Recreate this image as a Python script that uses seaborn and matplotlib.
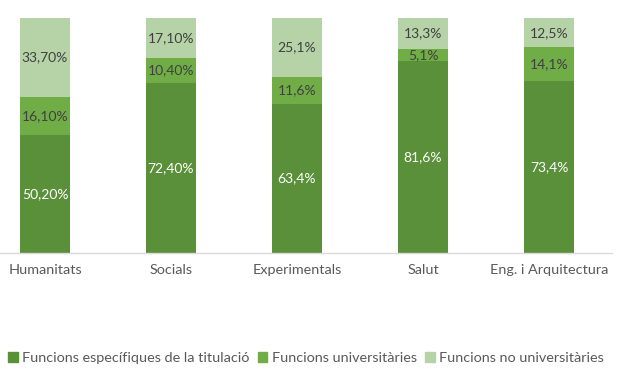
import numpy as np
import pandas as pd
import seaborn as sns
import matplotlib.pyplot as plt

categories = ["Humanitats", "Socials", "Experimentals", "Salut", "Eng. i Arquitectura"]
especifiques = [50.2, 72.4, 63.4, 81.6, 73.4]
universitaries = [16.1, 10.4, 11.6, 5.1, 14.1]
no_universitaries = [33.7, 17.1, 25.1, 13.3, 12.5]
labels_esp = ["50,20%", "72,40%", "63,4%", "81,6%", "73,4%"]
labels_univ = ["16,10%", "10,40%", "11,6%", "5,1%", "14,1%"]
labels_no = ["33,70%", "17,10%", "25,1%", "13,3%", "12,5%"]
series = ["Funcions específiques de la titulació", "Funcions universitàries",
          "Funcions no universitàries"]

colors = ["#5A9039", "#70AD47", "#B5D3A6"]

sns.set_style("white")
plt.rcParams['font.family'] = ['Lato', 'DejaVu Sans']

df = pd.DataFrame({
    "cat": categories,
    "esp": especifiques,
    "univ": universitaries,
    "no": no_universitaries,
})
df["top2"] = df["esp"] + df["univ"]
df["top3"] = df["top2"] + df["no"]

fig = plt.figure(figsize=(6.17, 3.80), dpi=100)
ax = fig.add_axes([-18 / 617, 1 - 253 / 380, 630 / 617, 235 / 380])

# stacked bars drawn as overlapping cumulative totals
for col, c in zip(["top3", "top2", "esp"], colors[::-1]):
    sns.barplot(data=df, x="cat", y=col, color=c, width=0.4, saturation=1,
                ax=ax, linewidth=0)

for i in range(len(categories)):
    e, u, n = especifiques[i], universitaries[i], no_universitaries[i]
    ax.text(i, e / 2, labels_esp[i], ha="center", va="center", color="white", fontsize=10)
    ax.text(i, e + u / 2, labels_univ[i], ha="center", va="center", color="#404040", fontsize=10)
    ax.text(i, e + u + n / 2, labels_no[i], ha="center", va="center", color="#404040", fontsize=10)

ax.set_ylim(0, 100)
ax.set_xlim(-0.5, 4.5)
ax.set_xlabel("")
ax.set_ylabel("")
ax.set_yticks([])
ax.tick_params(axis="x", length=0, labelsize=10.4, labelcolor="#595959", pad=8)
for s in ["top", "left", "right"]:
    ax.spines[s].set_visible(False)
ax.spines["bottom"].set_color("#D9D9D9")
ax.spines["bottom"].set_linewidth(1)

handles = [plt.Rectangle((0, 0), 1, 1, color=c) for c in colors]
fig.legend(handles, series, loc="center", bbox_to_anchor=(306 / 617, 1 - 358 / 380),
           ncol=3, frameon=False, fontsize=10.4, handlelength=0.65, handleheight=0.65,
           handletextpad=0.3, columnspacing=0.6, labelcolor="#595959")

fig.savefig("out.png", dpi=100)
